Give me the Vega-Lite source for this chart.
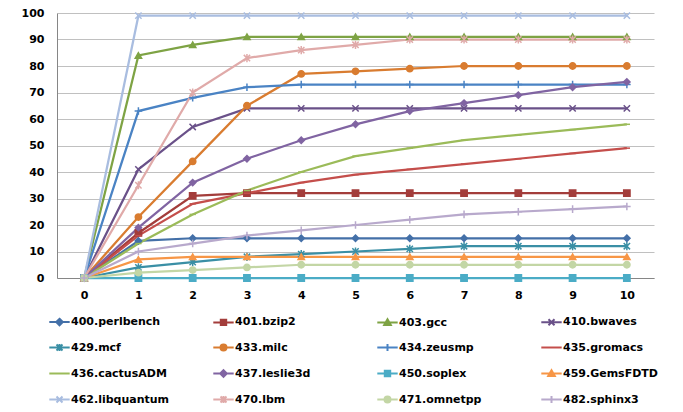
{
  "$schema": "https://vega.github.io/schema/vega-lite/v6.json",
  "autosize": {"type": "none"},
  "padding": {"left": 57, "top": 13, "right": 29, "bottom": 134},
  "width": 597,
  "height": 265,
  "background": "white",
  "config": {
    "view": {"stroke": null},
    "axis": {"labelFont": "DejaVu Sans", "labelFontSize": 11, "labelFontWeight": "bold", "labelColor": "#000000", "ticks": false, "domainColor": "#868686", "domainWidth": 1, "title": null}
  },
  "data": {"values": [
    {"s":"400.perlbench","x":0,"v":0},{"s":"400.perlbench","x":1,"v":14},{"s":"400.perlbench","x":2,"v":15},{"s":"400.perlbench","x":3,"v":15},{"s":"400.perlbench","x":4,"v":15},{"s":"400.perlbench","x":5,"v":15},{"s":"400.perlbench","x":6,"v":15},{"s":"400.perlbench","x":7,"v":15},{"s":"400.perlbench","x":8,"v":15},{"s":"400.perlbench","x":9,"v":15},{"s":"400.perlbench","x":10,"v":15},
    {"s":"401.bzip2","x":0,"v":0},{"s":"401.bzip2","x":1,"v":17},{"s":"401.bzip2","x":2,"v":31},{"s":"401.bzip2","x":3,"v":32},{"s":"401.bzip2","x":4,"v":32},{"s":"401.bzip2","x":5,"v":32},{"s":"401.bzip2","x":6,"v":32},{"s":"401.bzip2","x":7,"v":32},{"s":"401.bzip2","x":8,"v":32},{"s":"401.bzip2","x":9,"v":32},{"s":"401.bzip2","x":10,"v":32},
    {"s":"403.gcc","x":0,"v":0},{"s":"403.gcc","x":1,"v":84},{"s":"403.gcc","x":2,"v":88},{"s":"403.gcc","x":3,"v":91},{"s":"403.gcc","x":4,"v":91},{"s":"403.gcc","x":5,"v":91},{"s":"403.gcc","x":6,"v":91},{"s":"403.gcc","x":7,"v":91},{"s":"403.gcc","x":8,"v":91},{"s":"403.gcc","x":9,"v":91},{"s":"403.gcc","x":10,"v":91},
    {"s":"410.bwaves","x":0,"v":0},{"s":"410.bwaves","x":1,"v":41},{"s":"410.bwaves","x":2,"v":57},{"s":"410.bwaves","x":3,"v":64},{"s":"410.bwaves","x":4,"v":64},{"s":"410.bwaves","x":5,"v":64},{"s":"410.bwaves","x":6,"v":64},{"s":"410.bwaves","x":7,"v":64},{"s":"410.bwaves","x":8,"v":64},{"s":"410.bwaves","x":9,"v":64},{"s":"410.bwaves","x":10,"v":64},
    {"s":"429.mcf","x":0,"v":0},{"s":"429.mcf","x":1,"v":4},{"s":"429.mcf","x":2,"v":6},{"s":"429.mcf","x":3,"v":8},{"s":"429.mcf","x":4,"v":9},{"s":"429.mcf","x":5,"v":10},{"s":"429.mcf","x":6,"v":11},{"s":"429.mcf","x":7,"v":12},{"s":"429.mcf","x":8,"v":12},{"s":"429.mcf","x":9,"v":12},{"s":"429.mcf","x":10,"v":12},
    {"s":"433.milc","x":0,"v":0},{"s":"433.milc","x":1,"v":23},{"s":"433.milc","x":2,"v":44},{"s":"433.milc","x":3,"v":65},{"s":"433.milc","x":4,"v":77},{"s":"433.milc","x":5,"v":78},{"s":"433.milc","x":6,"v":79},{"s":"433.milc","x":7,"v":80},{"s":"433.milc","x":8,"v":80},{"s":"433.milc","x":9,"v":80},{"s":"433.milc","x":10,"v":80},
    {"s":"434.zeusmp","x":0,"v":0},{"s":"434.zeusmp","x":1,"v":63},{"s":"434.zeusmp","x":2,"v":68},{"s":"434.zeusmp","x":3,"v":72},{"s":"434.zeusmp","x":4,"v":73},{"s":"434.zeusmp","x":5,"v":73},{"s":"434.zeusmp","x":6,"v":73},{"s":"434.zeusmp","x":7,"v":73},{"s":"434.zeusmp","x":8,"v":73},{"s":"434.zeusmp","x":9,"v":73},{"s":"434.zeusmp","x":10,"v":73},
    {"s":"435.gromacs","x":0,"v":0},{"s":"435.gromacs","x":1,"v":16},{"s":"435.gromacs","x":2,"v":28},{"s":"435.gromacs","x":3,"v":32},{"s":"435.gromacs","x":4,"v":36},{"s":"435.gromacs","x":5,"v":39},{"s":"435.gromacs","x":6,"v":41},{"s":"435.gromacs","x":7,"v":43},{"s":"435.gromacs","x":8,"v":45},{"s":"435.gromacs","x":9,"v":47},{"s":"435.gromacs","x":10,"v":49},
    {"s":"436.cactusADM","x":0,"v":0},{"s":"436.cactusADM","x":1,"v":13},{"s":"436.cactusADM","x":2,"v":24},{"s":"436.cactusADM","x":3,"v":33},{"s":"436.cactusADM","x":4,"v":40},{"s":"436.cactusADM","x":5,"v":46},{"s":"436.cactusADM","x":6,"v":49},{"s":"436.cactusADM","x":7,"v":52},{"s":"436.cactusADM","x":8,"v":54},{"s":"436.cactusADM","x":9,"v":56},{"s":"436.cactusADM","x":10,"v":58},
    {"s":"437.leslie3d","x":0,"v":0},{"s":"437.leslie3d","x":1,"v":19},{"s":"437.leslie3d","x":2,"v":36},{"s":"437.leslie3d","x":3,"v":45},{"s":"437.leslie3d","x":4,"v":52},{"s":"437.leslie3d","x":5,"v":58},{"s":"437.leslie3d","x":6,"v":63},{"s":"437.leslie3d","x":7,"v":66},{"s":"437.leslie3d","x":8,"v":69},{"s":"437.leslie3d","x":9,"v":72},{"s":"437.leslie3d","x":10,"v":74},
    {"s":"450.soplex","x":0,"v":0},{"s":"450.soplex","x":1,"v":0},{"s":"450.soplex","x":2,"v":0},{"s":"450.soplex","x":3,"v":0},{"s":"450.soplex","x":4,"v":0},{"s":"450.soplex","x":5,"v":0},{"s":"450.soplex","x":6,"v":0},{"s":"450.soplex","x":7,"v":0},{"s":"450.soplex","x":8,"v":0},{"s":"450.soplex","x":9,"v":0},{"s":"450.soplex","x":10,"v":0},
    {"s":"459.GemsFDTD","x":0,"v":0},{"s":"459.GemsFDTD","x":1,"v":7},{"s":"459.GemsFDTD","x":2,"v":8},{"s":"459.GemsFDTD","x":3,"v":8},{"s":"459.GemsFDTD","x":4,"v":8},{"s":"459.GemsFDTD","x":5,"v":8},{"s":"459.GemsFDTD","x":6,"v":8},{"s":"459.GemsFDTD","x":7,"v":8},{"s":"459.GemsFDTD","x":8,"v":8},{"s":"459.GemsFDTD","x":9,"v":8},{"s":"459.GemsFDTD","x":10,"v":8},
    {"s":"462.libquantum","x":0,"v":0},{"s":"462.libquantum","x":1,"v":99},{"s":"462.libquantum","x":2,"v":99},{"s":"462.libquantum","x":3,"v":99},{"s":"462.libquantum","x":4,"v":99},{"s":"462.libquantum","x":5,"v":99},{"s":"462.libquantum","x":6,"v":99},{"s":"462.libquantum","x":7,"v":99},{"s":"462.libquantum","x":8,"v":99},{"s":"462.libquantum","x":9,"v":99},{"s":"462.libquantum","x":10,"v":99},
    {"s":"470.lbm","x":0,"v":0},{"s":"470.lbm","x":1,"v":35},{"s":"470.lbm","x":2,"v":70},{"s":"470.lbm","x":3,"v":83},{"s":"470.lbm","x":4,"v":86},{"s":"470.lbm","x":5,"v":88},{"s":"470.lbm","x":6,"v":90},{"s":"470.lbm","x":7,"v":90},{"s":"470.lbm","x":8,"v":90},{"s":"470.lbm","x":9,"v":90},{"s":"470.lbm","x":10,"v":90},
    {"s":"471.omnetpp","x":0,"v":0},{"s":"471.omnetpp","x":1,"v":2},{"s":"471.omnetpp","x":2,"v":3},{"s":"471.omnetpp","x":3,"v":4},{"s":"471.omnetpp","x":4,"v":5},{"s":"471.omnetpp","x":5,"v":5},{"s":"471.omnetpp","x":6,"v":5},{"s":"471.omnetpp","x":7,"v":5},{"s":"471.omnetpp","x":8,"v":5},{"s":"471.omnetpp","x":9,"v":5},{"s":"471.omnetpp","x":10,"v":5},
    {"s":"482.sphinx3","x":0,"v":0},{"s":"482.sphinx3","x":1,"v":10},{"s":"482.sphinx3","x":2,"v":13},{"s":"482.sphinx3","x":3,"v":16},{"s":"482.sphinx3","x":4,"v":18},{"s":"482.sphinx3","x":5,"v":20},{"s":"482.sphinx3","x":6,"v":22},{"s":"482.sphinx3","x":7,"v":24},{"s":"482.sphinx3","x":8,"v":25},{"s":"482.sphinx3","x":9,"v":26},{"s":"482.sphinx3","x":10,"v":27}
  ]},
  "encoding": {
    "x": {"field": "x", "type": "ordinal", "scale": {"type": "point", "padding": 0.5, "domain": [0,1,2,3,4,5,6,7,8,9,10]}, "axis": {"labelAngle": 0, "labelPadding": 11, "grid": false}},
    "y": {"field": "v", "type": "quantitative", "scale": {"domain": [0, 100], "nice": false}, "axis": {"values": [0,10,20,30,40,50,60,70,80,90,100], "labelPadding": 13, "grid": true, "gridColor": "#C0C0C0", "gridWidth": 1}}
  },
  "resolve": {"scale": {"color": "independent", "shape": "independent", "stroke": "independent"}},
  "layer": [
    {"mark": {"type": "line", "strokeWidth": 2.25},
     "encoding": {
       "color": {"field": "s", "type": "nominal", "legend": null,
         "scale": {"domain": ["400.perlbench","401.bzip2","403.gcc","410.bwaves","429.mcf","433.milc","434.zeusmp","435.gromacs","436.cactusADM","437.leslie3d","450.soplex","459.GemsFDTD","462.libquantum","470.lbm","471.omnetpp","482.sphinx3"],
                   "range": ["#4470A8","#A33D3B","#7EA344","#6A5189","#3A8FA5","#D97C30","#4A83C4","#C44E4B","#9BBB59","#8064A2","#4BACC6","#F79646","#A9BDE0","#E0AAA9","#C3D6A5","#B8A9CC"]}}
     }},
    {"mark": {"type": "point", "filled": true, "size": 40, "strokeWidth": 1.5, "opacity": 1},
     "encoding": {
       "color": {"field": "s", "type": "nominal", "legend": null,
         "scale": {"domain": ["400.perlbench","401.bzip2","403.gcc","410.bwaves","429.mcf","433.milc","434.zeusmp","435.gromacs","436.cactusADM","437.leslie3d","450.soplex","459.GemsFDTD","462.libquantum","470.lbm","471.omnetpp","482.sphinx3"],
                   "range": ["#4470A8","#A33D3B","#7EA344","#6A5189","#3A8FA5","#D97C30","#4A83C4","#C44E4B","#9BBB59","#8064A2","#4BACC6","#F79646","#A9BDE0","#E0AAA9","#C3D6A5","#B8A9CC"]}},
       "shape": {"field": "s", "type": "nominal", "legend": null,
         "scale": {"domain": ["400.perlbench","401.bzip2","403.gcc","410.bwaves","429.mcf","433.milc","434.zeusmp","435.gromacs","436.cactusADM","437.leslie3d","450.soplex","459.GemsFDTD","462.libquantum","470.lbm","471.omnetpp","482.sphinx3"],
                   "range": ["diamond","square","triangle-up","M-1,-1L1,1M-1,1L1,-1","M-1,-1L1,1M-1,1L1,-1M0,-1.3L0,1.3","circle","M0,-1.2L0,1.2M-1.2,0L1.2,0","M-1,0L1,0","M-1,0L1,0","diamond","square","triangle-up","M-1,-1L1,1M-1,1L1,-1","M-1,-1L1,1M-1,1L1,-1M0,-1.3L0,1.3","circle","M0,-1.2L0,1.2M-1.2,0L1.2,0"]}},
       "stroke": {"field": "s", "type": "nominal", "legend": null,
         "scale": {"domain": ["400.perlbench","401.bzip2","403.gcc","410.bwaves","429.mcf","433.milc","434.zeusmp","435.gromacs","436.cactusADM","437.leslie3d","450.soplex","459.GemsFDTD","462.libquantum","470.lbm","471.omnetpp","482.sphinx3"],
                   "range": ["#4470A8","#A33D3B","#7EA344","#6A5189","#3A8FA5","#D97C30","#4A83C4","#C44E4B","#9BBB59","#8064A2","#4BACC6","#F79646","#A9BDE0","#E0AAA9","#C3D6A5","#B8A9CC"]}}
     }},
    {"mark": {"type": "point", "filled": false, "size": 36, "strokeWidth": 2, "opacity": 0},
     "encoding": {
       "color": {"field": "s", "type": "nominal",
         "scale": {"domain": ["400.perlbench","401.bzip2","403.gcc","410.bwaves","429.mcf","433.milc","434.zeusmp","435.gromacs","436.cactusADM","437.leslie3d","450.soplex","459.GemsFDTD","462.libquantum","470.lbm","471.omnetpp","482.sphinx3"],
                   "range": ["#4470A8","#A33D3B","#7EA344","#6A5189","#3A8FA5","#D97C30","#4A83C4","#C44E4B","#9BBB59","#8064A2","#4BACC6","#F79646","#A9BDE0","#E0AAA9","#C3D6A5","#B8A9CC"]},
         "legend": {
           "orient": "none", "legendX": -3, "legendY": 303, "columns": 4, "direction": "horizontal", "gridAlign": "all",
           "columnPadding": 39, "rowPadding": 9, "padding": 0, "title": null,
           "symbolSize": 36, "symbolOpacity": 1, "symbolStrokeWidth": 2, "labelOffset": 6, "labelLimit": 300,
           "labelFont": "DejaVu Sans", "labelFontSize": 11, "labelFontWeight": "bold", "labelColor": "#000000"
         }},
       "shape": {"field": "s", "type": "nominal",
         "scale": {"domain": ["400.perlbench","401.bzip2","403.gcc","410.bwaves","429.mcf","433.milc","434.zeusmp","435.gromacs","436.cactusADM","437.leslie3d","450.soplex","459.GemsFDTD","462.libquantum","470.lbm","471.omnetpp","482.sphinx3"],
                   "range": [
                     "M-3.4,0H3.4M0,-1.1L1.1,0L0,1.1L-1.1,0ZM0,-0.45L0.45,0L0,0.45L-0.45,0Z",
                     "M-3.4,0H3.4M-0.9,-0.9H0.9V0.9H-0.9ZM-0.3,-0.3H0.3V0.3H-0.3Z",
                     "M-3.4,0H3.4M0,-1.1L1.1,0.8H-1.1ZM0,-0.35L0.4,0.4H-0.4Z",
                     "M-3.4,0H3.4M-1,-1L1,1M-1,1L1,-1",
                     "M-3.4,0H3.4M-1,-1L1,1M-1,1L1,-1M0,-1.2V1.2",
                     "M-3.4,0H3.4M-1,0A1,1,0,1,1,1,0A1,1,0,1,1,-1,0ZM-0.35,0A0.35,0.35,0,1,1,0.35,0A0.35,0.35,0,1,1,-0.35,0Z",
                     "M-3.4,0H3.4M0,-1.2V1.2",
                     "M-3.4,0H3.4",
                     "M-3.4,0H3.4",
                     "M-3.4,0H3.4M0,-1.1L1.1,0L0,1.1L-1.1,0ZM0,-0.45L0.45,0L0,0.45L-0.45,0Z",
                     "M-3.4,0H3.4M-0.9,-0.9H0.9V0.9H-0.9ZM-0.3,-0.3H0.3V0.3H-0.3Z",
                     "M-3.4,0H3.4M0,-1.1L1.1,0.8H-1.1ZM0,-0.35L0.4,0.4H-0.4Z",
                     "M-3.4,0H3.4M-1,-1L1,1M-1,1L1,-1",
                     "M-3.4,0H3.4M-1,-1L1,1M-1,1L1,-1M0,-1.2V1.2",
                     "M-3.4,0H3.4M-1,0A1,1,0,1,1,1,0A1,1,0,1,1,-1,0ZM-0.35,0A0.35,0.35,0,1,1,0.35,0A0.35,0.35,0,1,1,-0.35,0Z",
                     "M-3.4,0H3.4M0,-1.2V1.2"]}}
     }}
  ]
}
